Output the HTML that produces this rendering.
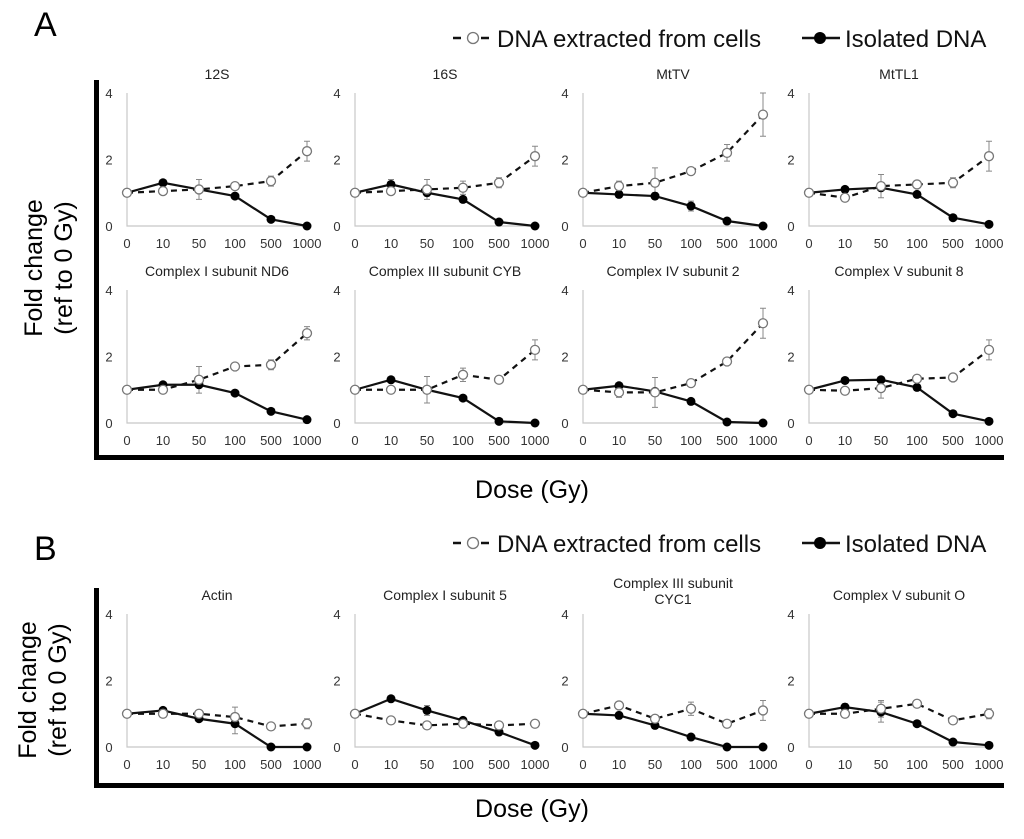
<!DOCTYPE html>
<html><head><meta charset="utf-8"><style>
body{margin:0;background:#fff;}
svg{display:block;font-family:"Liberation Sans",Arial,sans-serif;}
</style></head><body>
<svg id="c" width="1024" height="839" viewBox="0 0 1024 839" xmlns="http://www.w3.org/2000/svg">
<g id="static">
<text x="34" y="36" font-size="34">A</text>
<text x="34" y="560" font-size="34">B</text>
<rect x="94" y="80" width="5" height="380" fill="#000"/>
<rect x="94" y="455" width="910" height="5" fill="#000"/>
<rect x="94" y="588" width="5" height="200" fill="#000"/>
<rect x="94" y="783" width="910" height="5" fill="#000"/>
<text transform="translate(42,268) rotate(-90)" text-anchor="middle" font-size="25"><tspan x="0" dy="0">Fold change</tspan><tspan x="0" dy="30">(ref to 0 Gy)</tspan></text>
<text transform="translate(36,690) rotate(-90)" text-anchor="middle" font-size="25"><tspan x="0" dy="0">Fold change</tspan><tspan x="0" dy="30">(ref to 0 Gy)</tspan></text>
<text x="532" y="498" text-anchor="middle" font-size="25">Dose (Gy)</text>
<text x="532" y="817" text-anchor="middle" font-size="25">Dose (Gy)</text>
</g>
<g id="legends"></g>
<g id="panels"></g>
</svg>
<script>
const doses = ["0","10","50","100","500","1000"];
const yTicks = [0,2,4];
const titles = ["12S","16S","MtTV","MtTL1","Complex I subunit ND6","Complex III subunit CYB","Complex IV subunit 2","Complex V subunit 8","Actin","Complex I subunit 5","Complex III subunit|CYC1","Complex V subunit O"];
const cells = [
[1,1.05,1.1,1.2,1.35,2.25],[1,1.05,1.1,1.15,1.3,2.1],[1,1.2,1.3,1.65,2.2,3.35],[1,0.85,1.2,1.25,1.3,2.1],
[1,1.0,1.3,1.7,1.75,2.7],[1,1.0,1.0,1.45,1.3,2.2],[1,0.92,0.92,1.2,1.85,3.0],[1,0.97,1.05,1.33,1.37,2.2],
[1,1.0,1.0,0.9,0.62,0.7],[1,0.8,0.65,0.7,0.65,0.7],[1,1.25,0.85,1.15,0.7,1.1],[1,1.0,1.15,1.3,0.8,1.0]];
const cellsErr = [
[0,0.05,0.3,0.05,0.15,0.3],[0,0.1,0.3,0.2,0.15,0.3],[0,0.15,0.45,0.05,0.25,0.65],[0,0.05,0.35,0.05,0.15,0.45],
[0,0.05,0.4,0.1,0.15,0.2],[0,0.05,0.4,0.2,0.1,0.3],[0,0.15,0.45,0.05,0.05,0.45],[0,0.05,0.3,0.05,0.05,0.3],
[0,0.05,0.05,0.3,0.05,0.15],[0,0.05,0.05,0.05,0.05,0.05],[0,0.1,0.1,0.2,0.05,0.3],[0,0.1,0.25,0.1,0.1,0.15]];
const isolated = [
[1,1.3,1.1,0.9,0.2,0],[1,1.25,1.0,0.8,0.12,0],[1,0.95,0.9,0.6,0.15,0],[1,1.1,1.15,0.95,0.25,0.05],
[1,1.15,1.15,0.9,0.35,0.1],[1,1.3,1.0,0.75,0.05,0],[1,1.12,0.95,0.65,0.03,0],[1,1.28,1.3,1.07,0.28,0.05],
[1,1.1,0.85,0.7,0,0],[1,1.45,1.1,0.8,0.45,0.05],[1,0.95,0.65,0.3,0,0],[1,1.2,1.05,0.7,0.15,0.05]];
const isoErr = [
[0,0.05,0.05,0.05,0.05,0],[0,0.15,0.1,0.05,0.05,0],[0,0.05,0.1,0.15,0.05,0],[0,0.05,0.05,0.05,0.05,0],
[0,0.05,0.05,0.05,0.05,0],[0,0.05,0.1,0.05,0.05,0],[0,0.05,0.05,0.05,0.05,0],[0,0.05,0.05,0.05,0.05,0],
[0,0.05,0.05,0.3,0,0],[0,0.05,0.15,0.05,0.05,0],[0,0.1,0.05,0.05,0,0],[0,0.1,0.3,0.05,0.05,0]];

const NS="http://www.w3.org/2000/svg";
const colX=[127,355,583,809], PW=180;
const rowY0=[226,423,747], PH=133;
const panels=document.getElementById('panels');
function mk(tag,attrs,parent){const e=document.createElementNS(NS,tag);for(const k in attrs)e.setAttribute(k,attrs[k]);(parent||panels).appendChild(e);return e;}

titles.forEach((t,i)=>{
  const col=i%4,row=Math.floor(i/4);
  const x0=colX[col],y0=rowY0[row];
  const xs=j=>x0+j*PW/(doses.length-1);
  const ys=v=>y0-v/4*PH;
  const g=mk('g',{});
  
  
  const lines=t.split('|');
  lines.forEach((ln,k)=>{const tt=mk('text',{x:x0+PW/2,y:y0-PH-(lines.length>1?26-k*16:14),'text-anchor':'middle','font-size':14,fill:'#222'},g);tt.textContent=ln;
    
    });
  const ax=mk('path',{d:`M${x0} ${ys(4)} v${PH} h${PW+2}`,stroke:'#c8c8c8','stroke-width':1.2,fill:'none'},g);
  
  
  yTicks.forEach(v=>{const tt=mk('text',{x:x0-18,y:ys(v)+5,'text-anchor':'middle','font-size':13,fill:'#333'},g);tt.textContent=v;
    
    });
  doses.forEach((d,j)=>{const tt=mk('text',{x:xs(j),y:y0+22,'text-anchor':'middle','font-size':13,fill:'#333'},g);tt.textContent=d;
    
    });
  [[cells[i],cellsErr[i],'#888'],[isolated[i],isoErr[i],'#888']].forEach(([vals,err,c])=>{
    vals.forEach((v,j)=>{if(!err[j])return;
      const eb=mk('path',{d:`M${xs(j)} ${ys(v+err[j])} V${ys(Math.max(0,v-err[j]))} M${xs(j)-3} ${ys(v+err[j])} h6 M${xs(j)-3} ${ys(Math.max(0,v-err[j]))} h6`,stroke:c,'stroke-width':1,fill:'none'},g);
      
      });
  });
  const pc=mk('polyline',{points:cells[i].map((v,j)=>xs(j)+','+ys(v)).join(' '),stroke:'#111','stroke-width':2.2,'stroke-dasharray':'6,5',fill:'none'},g);
  
  
  const pi=mk('polyline',{points:isolated[i].map((v,j)=>xs(j)+','+ys(v)).join(' '),stroke:'#111','stroke-width':2.2,fill:'none'},g);
  
  
  isolated[i].forEach((v,j)=>{const c=mk('circle',{cx:xs(j),cy:ys(v),r:4.5,fill:'#000'},g);
    
    });
  cells[i].forEach((v,j)=>{const c=mk('circle',{cx:xs(j),cy:ys(v),r:4.5,fill:'#fff',stroke:'#777','stroke-width':1.3},g);
    
    });
});

const lg=document.getElementById('legends');
[[38,'a'],[543,'b']].forEach(([y,s])=>{
  const g=mk('g',{},lg);
  
  
  const e1=mk('g',{},g);
  
  
  mk('line',{x1:453,y1:y,x2:490,y2:y,stroke:'#111','stroke-width':2.5,'stroke-dasharray':'8,6'},e1);
  mk('circle',{cx:473,cy:y,r:5.5,fill:'#fff',stroke:'#777','stroke-width':1.3},e1);
  const t1=mk('text',{x:497,y:y+9,'font-size':24,fill:'#111'},e1);t1.textContent='DNA extracted from cells';
  const e2=mk('g',{},g);
  
  
  mk('line',{x1:802,y1:y,x2:840,y2:y,stroke:'#111','stroke-width':2.5},e2);
  mk('circle',{cx:820,cy:y,r:6,fill:'#000'},e2);
  const t2=mk('text',{x:845,y:y+9,'font-size':24,fill:'#111'},e2);t2.textContent='Isolated DNA';
});
</script>
</body></html>
